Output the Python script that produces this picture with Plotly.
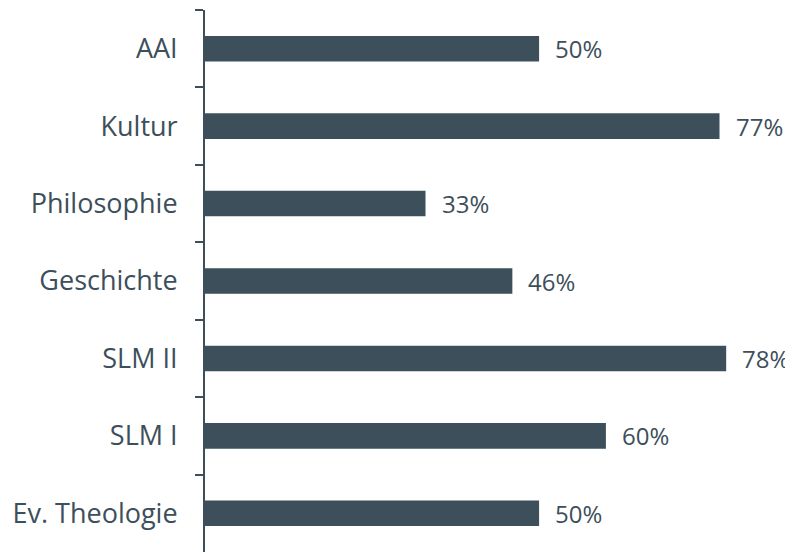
import plotly.graph_objects as go

categories = ["AAI", "Kultur", "Philosophie", "Geschichte", "SLM II", "SLM I", "Ev. Theologie"]
values = [50, 77, 33, 46, 78, 60, 50]
labels = [f"{v}%" for v in values]

COLOR = "#3d4f5a"
FONT = "Open Sans, Fira Sans, sans-serif"

fig = go.Figure()
fig.add_trace(go.Bar(
    y=categories, x=values, orientation="h",
    marker=dict(color=COLOR, line=dict(width=0)),
    width=0.33,
    hoverinfo="skip",
))
for c, v, t in zip(categories, values, labels):
    fig.add_annotation(x=v, y=c, text=t, showarrow=False, xanchor="left",
                       xshift=14, font=dict(family=FONT, size=24, color=COLOR))

fig.update_layout(
    width=785, height=546,
    margin=dict(l=197, r=0, t=2, b=2),
    plot_bgcolor="white", paper_bgcolor="white",
    showlegend=False,
    font=dict(family=FONT, size=24, color=COLOR),
    xaxis=dict(range=[0, 88], visible=False, fixedrange=True),
    yaxis=dict(
        autorange="reversed", type="category",
        showline=True, linecolor=COLOR, linewidth=2,
        ticks="outside", tickson="boundaries", ticklen=8, tickcolor=COLOR, tickwidth=2,
        showgrid=False, ticklabelstandoff=20,
        tickfont=dict(family=FONT, size=27, color=COLOR),
    ),
)
fig.write_html("out.html")
